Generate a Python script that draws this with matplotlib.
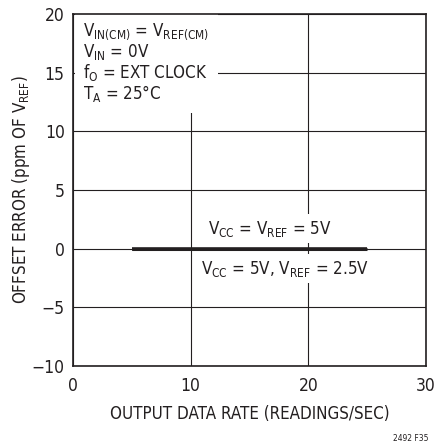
import matplotlib
matplotlib.use('Agg')
import matplotlib.pyplot as plt

plt.rcParams['font.family'] = ['DejaVu Sans']
plt.rcParams['font.stretch'] = 'condensed'
plt.rcParams['mathtext.fontset'] = 'custom'
plt.rcParams['mathtext.rm'] = 'DejaVu Sans:stretch=condensed'
plt.rcParams['mathtext.it'] = 'DejaVu Sans:stretch=condensed'

# data (readings/sec vs ppm of Vref)
rate = [5, 10, 15, 20, 25]
err_5v = [0, 0, 0, 0, 0]
err_25v = [0, 0, 0, 0, 0]

xticks = [0, 10, 20, 30]
yticks = [-10, -5, 0, 5, 10, 15, 20]
ytick_labels = ['\u221210', '\u22125', '0', '5', '10', '15', '20']

ink = '#231f20'
fs = 12.2

fig = plt.figure(figsize=(4.35, 4.48), dpi=100)
ax = fig.add_axes([0.168, 0.183, 0.811, 0.786])

ax.plot(rate, err_25v, color=ink, lw=2.6, solid_capstyle='butt', zorder=4)
ax.plot(rate, err_5v, color=ink, lw=2.2, solid_capstyle='butt', zorder=4)

ax.set_xlim(0, 30)
ax.set_ylim(-10, 20)
ax.set_xticks(xticks)
ax.set_yticks(yticks)
ax.set_yticklabels(ytick_labels)
ax.tick_params(length=0, labelsize=12.5, colors=ink, pad=6)
ax.tick_params(axis='x', pad=8)
ax.grid(True, color=ink, lw=0.8)
ax.set_axisbelow(True)
for s in ax.spines.values():
    s.set_color(ink)
    s.set_linewidth(1.2)

ax.set_xlabel('OUTPUT DATA RATE (READINGS/SEC)', fontsize=fs, color=ink, labelpad=7)
ax.set_ylabel(r'OFFSET ERROR (ppm OF V$_{\mathregular{REF}}$)', fontsize=fs, color=ink, labelpad=0)

box = dict(facecolor='white', edgecolor='none', pad=3)
cond = ('$\\mathregular{V_{IN(CM)}}$ = $\\mathregular{V_{REF(CM)}}$\n'
        '$\\mathregular{V_{IN}}$ = 0V\n'
        '$\\mathregular{f_{O}}$ = EXT CLOCK\n'
        '$\\mathregular{T_{A}}$ = 25\u00b0C')
ax.text(0.85, 19.4, cond, fontsize=fs, color=ink, va='top', ha='left',
        linespacing=1.02, zorder=1.5,
        bbox=dict(facecolor='white', edgecolor='none', boxstyle='square,pad=0.5'))

ax.text(16.7, 1.7, '$\\mathregular{V_{CC}}$ = $\\mathregular{V_{REF}}$ = 5V', fontsize=fs,
        color=ink, ha='center', va='center', bbox=box, zorder=1.5)
ax.text(18.0, -1.7, '$\\mathregular{V_{CC}}$ = 5V, $\\mathregular{V_{REF}}$ = 2.5V', fontsize=fs,
        color=ink, ha='center', va='center', bbox=box, zorder=1.5)

fig.text(0.985, 0.012, '2492 F35', fontsize=6, color=ink, ha='right', va='bottom')

fig.savefig('out.png', dpi=100, facecolor='white')
